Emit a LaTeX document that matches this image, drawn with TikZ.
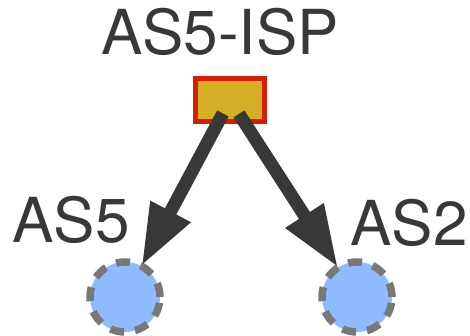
\documentclass[tikz,border=0pt]{standalone}
\usepackage{fontspec}
\setmainfont{TeX Gyre Heros}
\usetikzlibrary{arrows.meta}
\definecolor{ispfill}{RGB}{212,175,37}
\definecolor{ispline}{RGB}{212,32,0}
\definecolor{asfill}{RGB}{143,187,255}
\definecolor{asline}{RGB}{120,120,120}
\definecolor{ink}{RGB}{56,56,56}
\tikzset{
	ispbox/.style = {rectangle, draw=ispline, fill=ispfill, line width=5pt, minimum width=69pt, minimum height=43pt, inner sep=0pt},
	asnode/.style = {circle, draw=asline, fill=asfill, line width=7.5pt, dash pattern=on 14pt off 11pt, minimum size=70pt, inner sep=0pt, outer sep=0pt},
	astag/.style = {anchor=base, inner sep=0pt, text=ink, font=\fontsize{62}{62}\selectfont},
	link/.style = {draw=ink, line width=13pt, -{Triangle[length=62pt,width=42pt]}, shorten <=-12pt}
}
\begin{document}
\begin{tikzpicture}[x=1pt, y=-1pt]
				\useasboundingbox (0,0) rectangle (470,336);
				\node (isp) [ispbox] at (230,100) {};
				\node (as5) [asnode] at (125,297) {};
				\node (as2) [asnode] at (357,297) {};
				
				\node (isptag) [astag] at (220,55) {AS5-ISP};
				\node (as5tag) [astag] at (71,243) {AS5};
				\node (as2tag) [astag] at (409,245) {AS2};
				
				\draw [link] (isp) -- (as5);
				\draw [link] (isp) -- (as2);
			\end{tikzpicture}
\end{document}
